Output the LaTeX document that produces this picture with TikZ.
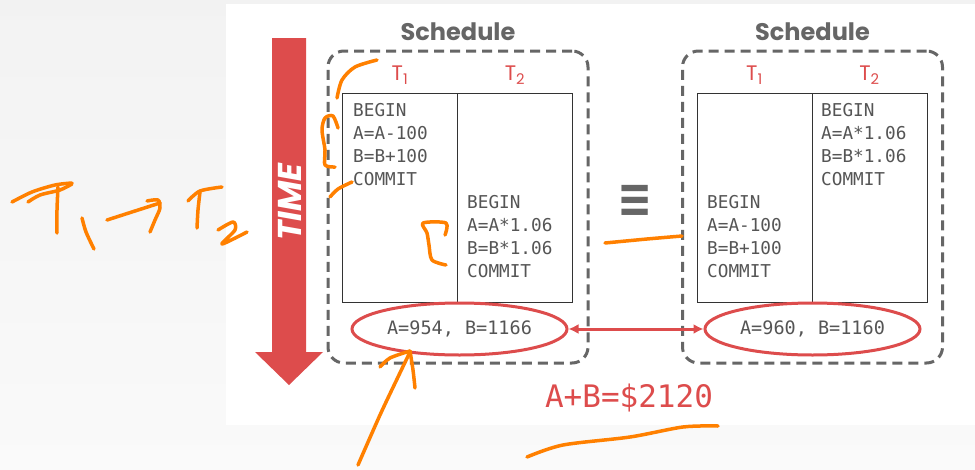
\documentclass[tikz,border=0pt]{standalone}
\usepackage{fontspec}
\usepackage{tikz}
\usetikzlibrary{arrows.meta}
\usetikzlibrary{shapes,calc}
\newfontfamily\popfont{Poppins}
\newfontfamily\codefont{DejaVu Sans Mono}
\newfontfamily\symbfont{DejaVu Sans}
\definecolor{slidered}{HTML}{DD4C4C}
\definecolor{boxgray}{HTML}{666666}
\definecolor{codegray}{HTML}{555555}
\definecolor{inkorange}{HTML}{FF8000}
\pgfkeys{tikz/schedbox/.style={draw=boxgray, line width=3pt, dash pattern=on 10pt off 6pt, rounded corners=16pt, minimum width=260pt, minimum height=312pt, inner sep=0pt}}
\pgfkeys{tikz/txncell/.style={draw=black!80, line width=0.9pt, minimum width=115pt, minimum height=209pt, inner sep=0pt}}
\pgfkeys{tikz/codetext/.style={anchor=base west, align=left, inner sep=0pt, text=codegray, font=\codefont\fontsize{17.7}{23}\selectfont}}
\pgfkeys{tikz/stateoval/.style={ellipse, draw=slidered, line width=3pt, minimum width=215pt, minimum height=52pt, inner sep=0pt, text=codegray, font=\codefont\fontsize{18.5}{22}\selectfont}}
\pgfkeys{tikz/txnlabel/.style={text=slidered, font=\popfont\fontsize{21}{24}\selectfont}}
\pgfkeys{tikz/schedtitle/.style={text=boxgray, font=\popfont\bfseries\fontsize{24}{28}\selectfont}}
\pgfkeys{tikz/scribble/.style={draw=inkorange, line width=3.5pt, line cap=round, line join=round}}

\begin{document}
\begin{tikzpicture}[x=1pt, y=-1pt]
\shade[top color=black!5, bottom color=black!2] (0,0) rectangle (975,469);
\fill[white] (226,4) rectangle (975,425);
\useasboundingbox (0,0) rectangle (975,469);
\fill[slidered] (272,38) -- (306,38) -- (306,352) -- (323,352) -- (289,385) -- (255,352) -- (272,352) -- cycle;
\draw (290,202) node[rotate=90, text=white, inner sep=0pt, font=\popfont\bfseries\itshape\fontsize{33}{33}\selectfont] (time) {TIME};
\draw (458,207) node[schedbox] (S1) {};
\draw (812.5,207) node[schedbox] (S2) {};
\draw (458,32) node[schedtitle] (S1title) {Schedule};
\draw (812.5,32) node[schedtitle] (S2title) {Schedule};
\draw (400,75) node[txnlabel] (S1t1) {T\textsubscript{1}};
\draw (515,75) node[txnlabel] (S1t2) {T\textsubscript{2}};
\draw (754.5,75) node[txnlabel] (S2t1) {T\textsubscript{1}};
\draw (869.5,75) node[txnlabel] (S2t2) {T\textsubscript{2}};
\draw (400,197.5) node[txncell] (S1a) {};
\draw (515,197.5) node[txncell] (S1b) {};
\draw (754.5,197.5) node[txncell] (S2a) {};
\draw (869.5,197.5) node[txncell] (S2b) {};
\draw (353,185) node[codetext] (S1code1) {BEGIN\\A=A-100\\B=B+100\\COMMIT};
\draw (467,277) node[codetext] (S1code2) {BEGIN\\A=A*1.06\\B=B*1.06\\COMMIT};
\draw (821,185) node[codetext] (S2code2) {BEGIN\\A=A*1.06\\B=B*1.06\\COMMIT};
\draw (707,277) node[codetext] (S2code1) {BEGIN\\A=A-100\\B=B+100\\COMMIT};
\draw (459.5,329) node[stateoval] (R1) {A=954, B=1166};
\draw (812.5,329) node[stateoval] (R2) {A=960, B=1160};
\draw [slidered, line width=3pt, {Latex[length=10pt,width=10pt]}-{Latex[length=10pt,width=10pt]}] (R1)--(R2);
\draw (635,201) node[text=boxgray, yscale=1.3, inner sep=0pt, font=\symbfont\bfseries\fontsize{42}{42}\selectfont] (equiv) {≡};
\draw (629,398) node[text=slidered, font=\codefont\fontsize{31}{32}\selectfont] (sum) {A+B=\$2120};
\draw [scribble] plot[smooth] coordinates {(12,202) (32,192) (55,185) (72,183)};
\draw [scribble] plot[smooth] coordinates {(28,202) (40,195) (60,190) (72,184)};
\draw [scribble] plot[smooth] coordinates {(58,187) (57,210) (57,233)};
\draw [scribble] plot[smooth] coordinates {(82,218) (86,232) (94,249)};
\draw [scribble] plot[smooth] coordinates {(107,220) (135,211) (160,203)};
\draw [scribble] plot[smooth] coordinates {(147,201) (158,200) (160,208) (155,220) (150,232)};
\draw [scribble] plot[smooth] coordinates {(188,201) (200,191) (222,187)};
\draw [scribble] plot[smooth] coordinates {(200,192) (198,210) (197,228)};
\draw [scribble] plot[smooth] coordinates {(218,230) (233,222) (235,230) (222,244) (247,232)};
\draw [scribble] plot[smooth] coordinates {(337,98) (342,80) (355,67) (377,60)};
\draw [scribble] plot[smooth] coordinates {(338,128) (333,116) (325,118) (322,130) (325,150) (325,165) (335,167)};
\draw [scribble] plot[smooth] coordinates {(352,182) (338,189) (330,197)};
\draw [scribble] plot[smooth] coordinates {(445,235) (446,223) (423,223) (427,233) (429,245) (432,260) (446,265)};
\draw [scribble] plot[smooth] coordinates {(605,243) (647,239) (682,236)};
\draw [scribble] plot[smooth] coordinates {(358,465) (380,415) (398,377) (410,352)};
\draw [scribble] plot[smooth] coordinates {(380,367) (390,358) (410,351)};
\draw [scribble] plot[smooth] coordinates {(410,351) (413,370) (415,388)};
\draw [scribble] plot[smooth] coordinates {(527,457) (563,445) (630,437) (683,427) (718,426)};
\end{tikzpicture}
\end{document}
